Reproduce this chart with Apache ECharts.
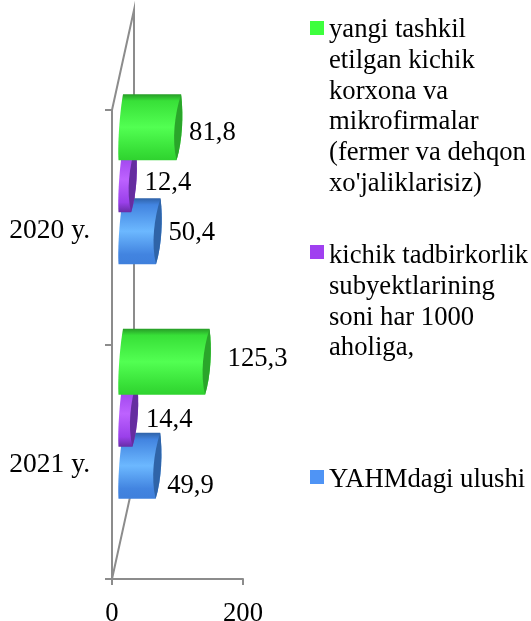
<!DOCTYPE html>
<html>
<head>
<meta charset="utf-8">
<style>
  html, body { margin: 0; padding: 0; background: #fff; }
  #chart { width: 531px; height: 621px; }
</style>
</head>
<body>
<div id="chart"></div>
<script src="https://cdn.jsdelivr.net/npm/echarts@6/dist/echarts.min.js"></script>
<script>
var categories = ["2020 y.", "2021 y."];
var greenValues = [81.8, 125.3];
var purpleValues = [12.4, 14.4];
var blueValues = [50.4, 49.9];
var greenName = "yangi tashkil\netilgan kichik\nkorxona va\nmikrofirmalar\n(fermer va dehqon\nxo'jaliklarisiz)";
var purpleName = "kichik tadbirkorlik\nsubyektlarining\nsoni har 1000\naholiga,";
var blueName = "YAHMdagi ulushi";

var FONT = "Liberation Serif";
var FONT_SIZE = 26.67;
var AXIS_COLOR = "#8c8c8c";
var gridLeft = 112, gridTop = 110, gridWidth = 131, gridHeight = 469;
var depthX = 22, depthY = -100; // side wall of the fake 3D box
var barH = 33; // half height

// label nudges, the labels were moved by hand in the original
var greenNudge = [[8, 5.5], [18, -2.5]];
var purpleNudge = [[9, 3.5], [9, 6.5]];
var blueNudge = [[8, 1.5], [7, 20.5]];

function cylinder(values, nudge, shift, colors) {
  return function (params, api) {
    var i = params.dataIndex;
    var zero = api.coord([0, i]);
    var end = api.coord([api.value(0), i]);
    var yc = zero[1] + depthY / 2 + shift + 2;
    var yt = yc - barH, yb = yc + barH;
    var x0 = zero[0] + depthX / 2 - 4.5;
    var x1 = end[0] + depthX / 2;
    var body = "M" + (x0 + 4.5) + " " + yt +
      "L" + (x1 + 4.5) + " " + yt +
      "C" + (x1 + 7) + " " + (yt + 20) + " " + (x1 + 6) + " " + (yb - 20) + " " + x1 + " " + yb +
      "L" + x0 + " " + yb +
      "C" + (x0 - 1) + " " + (yb - 15) + " " + (x0 + 1) + " " + (yt + 20) + " " + (x0 + 4.5) + " " + yt + "Z";
    var cap = "M" + (x1 + 4.5) + " " + yt +
      "C" + (x1 - 2) + " " + (yt + 20) + " " + (x1 - 5) + " " + (yb - 20) + " " + x1 + " " + yb +
      "C" + (x1 + 6) + " " + (yb - 20) + " " + (x1 + 7) + " " + (yt + 20) + " " + (x1 + 4.5) + " " + yt + "Z";
    return {
      type: "group",
      children: [
        {
          type: "path",
          shape: { pathData: body },
          style: {
            fill: new echarts.graphic.LinearGradient(0, 0, 0, 1, [
              { offset: 0, color: colors[0] },
              { offset: 0.1, color: colors[1] },
              { offset: 0.5, color: colors[2] },
              { offset: 0.85, color: colors[1] },
              { offset: 1, color: colors[3] }
            ])
          }
        },
        {
          type: "path",
          shape: { pathData: cap },
          style: { fill: colors[4] }
        },
        {
          type: "text",
          style: {
            text: String(values[i]).replace(".", ","),
            x: x1 + 4.5 + nudge[i][0],
            y: yc + nudge[i][1],
            verticalAlign: "middle",
            font: FONT_SIZE + "px '" + FONT + "'",
            fill: "#000"
          }
        }
      ]
    };
  };
}

function toData(values) {
  return values.map(function (v, i) { return [v, i]; });
}

// squares only, legend text centres on the square so the wrapped text is a graphic
function legendItem(name, top) {
  return {
    left: 310,
    top: top,
    data: [name],
    icon: "rect",
    itemWidth: 14,
    itemHeight: 14,
    padding: 0,
    selectedMode: false,
    formatter: function () { return ""; }
  };
}

function legendText(name, top) {
  return {
    type: "text",
    left: 329,
    top: top,
    style: {
      text: name,
      font: FONT_SIZE + "px '" + FONT + "'",
      lineHeight: 30.7,
      fill: "#000"
    }
  };
}

var chart = echarts.init(document.getElementById("chart"));
chart.setOption({
  backgroundColor: "#fff",
  animation: false,
  grid: { left: gridLeft, top: gridTop, width: gridWidth, height: gridHeight, outerBoundsMode: "none" },
  legend: [
    legendItem(greenName, 21),
    legendItem(purpleName, 245),
    legendItem(blueName, 470)
  ],
  xAxis: {
    type: "value",
    min: 0,
    max: 200,
    interval: 200,
    splitLine: { show: false },
    axisLine: { show: true, lineStyle: { color: AXIS_COLOR, width: 2 } },
    axisTick: { show: true, length: 6, lineStyle: { color: AXIS_COLOR, width: 2 } },
    axisLabel: { color: "#000", fontFamily: FONT, fontSize: FONT_SIZE, margin: 21 }
  },
  yAxis: {
    type: "category",
    inverse: true,
    data: categories,
    axisLine: { show: true, lineStyle: { color: AXIS_COLOR, width: 2 } },
    axisTick: { show: true, length: 7, lineStyle: { color: AXIS_COLOR, width: 2 } },
    axisLabel: {
      margin: 22,
      formatter: "{a|{value}}",
      rich: { a: { color: "#000", fontFamily: FONT, fontSize: 27.5, padding: [7, 0, 0, 0] } }
    }
  },
  graphic: [
    {
      type: "polyline",
      z: 0,
      shape: { points: [
        [gridLeft, gridTop],
        [gridLeft + depthX, gridTop + depthY],
        [gridLeft + depthX, gridTop + gridHeight + depthY],
        [gridLeft, gridTop + gridHeight]
      ] },
      style: { stroke: AXIS_COLOR, lineWidth: 2, fill: null }
    },
    legendText(greenName, 15),
    legendText(purpleName, 241),
    legendText(blueName, 465)
  ],
  series: [
    {
      name: blueName,
      type: "custom",
      itemStyle: { color: "#4f94f5" },
      renderItem: cylinder(blueValues, blueNudge, 52, ["#2f62a8", "#4284e0", "#6cb8ff", "#3f80dc", "#2f64a8"]),
      encode: { x: 0, y: 1 },
      data: toData(blueValues)
    },
    {
      name: purpleName,
      type: "custom",
      itemStyle: { color: "#a040f0" },
      renderItem: cylinder(purpleValues, purpleNudge, 0, ["#5f2a96", "#9a40ea", "#bd62ff", "#672ca6", "#652da0"]),
      encode: { x: 0, y: 1 },
      data: toData(purpleValues)
    },
    {
      name: greenName,
      type: "custom",
      itemStyle: { color: "#3dff3d" },
      renderItem: cylinder(greenValues, greenNudge, -52, ["#279c27", "#38e038", "#52ff52", "#2fd22f", "#2aa52a"]),
      encode: { x: 0, y: 1 },
      data: toData(greenValues)
    }
  ]
});
</script>
</body>
</html>
